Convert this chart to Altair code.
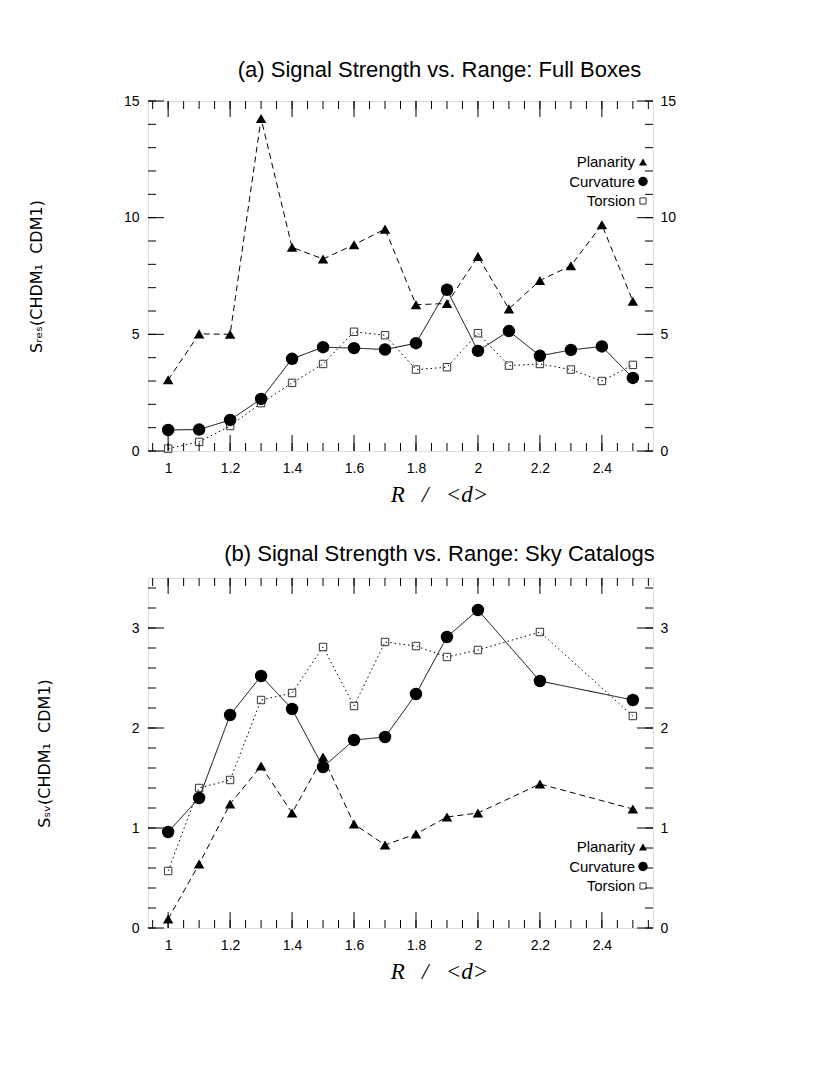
import altair as alt
import pandas as pd

# ---------------- data ----------------
series = ["Planarity", "Curvature", "Torsion"]

x_a = [1.0, 1.1, 1.2, 1.3, 1.4, 1.5, 1.6, 1.7, 1.8, 1.9, 2.0, 2.1, 2.2, 2.3, 2.4, 2.5]
plan_a = [3.05, 5.02, 5.0, 14.25, 8.73, 8.23, 8.84, 9.51, 6.27, 6.32, 8.34, 6.09, 7.31, 7.94, 9.70, 6.42]
curv_a = [0.90, 0.92, 1.33, 2.23, 3.95, 4.45, 4.41, 4.35, 4.62, 6.91, 4.29, 5.14, 4.08, 4.33, 4.48, 3.13]
tors_a = [0.10, 0.39, 1.07, 2.05, 2.92, 3.73, 5.11, 4.96, 3.49, 3.59, 5.05, 3.66, 3.73, 3.49, 3.00, 3.69]

x_b = [1.0, 1.1, 1.2, 1.3, 1.4, 1.5, 1.6, 1.7, 1.8, 1.9, 2.0, 2.2, 2.5]
plan_b = [0.09, 0.64, 1.24, 1.62, 1.15, 1.71, 1.04, 0.83, 0.94, 1.11, 1.15, 1.44, 1.19]
curv_b = [0.96, 1.30, 2.13, 2.52, 2.19, 1.61, 1.88, 1.91, 2.34, 2.91, 3.18, 2.47, 2.28]
tors_b = [0.57, 1.40, 1.48, 2.28, 2.35, 2.81, 2.22, 2.86, 2.82, 2.71, 2.78, 2.96, 2.12]

x_domain = [0.935, 2.565]
x_major = [1.0, 1.2, 1.4, 1.6, 1.8, 2.0, 2.2, 2.4]
x_minor = [0.95, 1.0, 1.05, 1.1, 1.15, 1.2, 1.25, 1.3, 1.35, 1.4, 1.45, 1.5, 1.55,
           1.6, 1.65, 1.7, 1.75, 1.8, 1.85, 1.9, 1.95, 2.0, 2.05, 2.1, 2.15, 2.2,
           2.25, 2.3, 2.35, 2.4, 2.45, 2.5, 2.55]

ya_domain = [0, 15]
ya_major = [0, 5, 10, 15]
ya_minor = [0, 1, 2, 3, 4, 5, 6, 7, 8, 9, 10, 11, 12, 13, 14, 15]

yb_domain = [0, 3.5]
yb_major = [0, 1, 2, 3]
yb_minor = [0, 0.2, 0.4, 0.6, 0.8, 1.0, 1.2, 1.4, 1.6, 1.8, 2.0, 2.2, 2.4, 2.6,
            2.8, 3.0, 3.2, 3.4]

NB = "\u00a0"
titles = ["(a) Signal Strength vs. Range: Full Boxes",
          "(b) Signal Strength vs. Range: Sky Catalogs"]
ytitles = ["S\u1d63\u2091\u209b(CHDM\u2081" + NB * 2 + "CDM1)",
           "S\u209b\u1d65(CHDM\u2081" + NB * 2 + "CDM1)"]
xtitle = "R" + NB * 3 + "/" + NB * 3 + "<d>"

W = 505
H = 350
FONT = "Liberation Sans"
MAJ = 16
MIN = 8
LEG_TEXT_X = 487
LEG_SYM_X = 495
LEG_PITCH = 19.5


def panel(xs, p, c, t, ydom, ymaj, ymin, title, ytitle, leg_top):
    frames = []
    for name, vals in zip(series, [p, c, t]):
        frames.append(pd.DataFrame({"x": xs, "value": vals, "series": name}))
    df = pd.concat(frames, ignore_index=True)

    xs_scale = alt.Scale(domain=x_domain, nice=False, zero=False)
    ys_scale = alt.Scale(domain=ydom, nice=False, zero=False)

    x_axis = alt.Axis(values=x_major, format="~g", ticks=False, domain=False,
                      grid=False, labelFont=FONT, labelFontSize=14,
                      labelColor="black", labelPadding=10, title=xtitle,
                      titleFont="Liberation Serif", titleFontStyle="italic",
                      titleFontWeight="normal", titleFontSize=23,
                      titleColor="black", titlePadding=8, titleX=291)
    y_left = alt.Axis(orient="left", values=ymaj, format="~g", ticks=False,
                      domain=False, grid=False, labelFont=FONT, labelFontSize=14,
                      labelColor="black", labelPadding=9, title=ytitle,
                      titleFont="DejaVu Sans", titleFontWeight="normal",
                      titleFontSize=16, titleColor="black", titlePadding=79)
    y_right = alt.Axis(orient="right", values=ymaj, format="~g", ticks=False,
                       domain=False, grid=False, labelFont=FONT, labelFontSize=14,
                       labelColor="black", labelPadding=7, title=None)

    def X(axis=None):
        return alt.X("x:Q", scale=xs_scale, axis=axis)

    def Y(axis=None):
        return alt.Y("value:Q", scale=ys_scale, axis=axis)

    base = alt.Chart(df)
    dashes = {"Planarity": [6, 4], "Curvature": [1, 0], "Torsion": [1.5, 3]}
    layers = []
    for i, name in enumerate(series):
        ln = base.transform_filter(alt.datum.series == name).mark_line(
            color="black", strokeWidth=1, strokeDash=dashes[name])
        if i == 0:
            ln = ln.encode(x=X(x_axis), y=Y(y_left))
        elif i == 1:
            ln = ln.encode(x=X(), y=Y(y_right))
        else:
            ln = ln.encode(x=X(), y=Y())
        layers.append(ln)

    tri = base.transform_filter(alt.datum.series == "Planarity").mark_point(
        shape="triangle-up", filled=True, color="black", size=110, opacity=1
    ).encode(x=X(), y=Y())
    cir = base.transform_filter(alt.datum.series == "Curvature").mark_point(
        shape="circle", filled=True, color="black", size=155, opacity=1
    ).encode(x=X(), y=Y())
    sq = base.transform_filter(alt.datum.series == "Torsion").mark_point(
        shape="square", filled=False, color="#333333", size=55, strokeWidth=1,
        opacity=1
    ).encode(x=X(), y=Y())
    layers += [sq, tri, cir]

    # legend: label on the left, symbol on the right
    sym_style = {
        "Planarity": dict(shape="triangle-up", filled=True, color="black", size=65),
        "Curvature": dict(shape="circle", filled=True, color="black", size=90),
        "Torsion": dict(shape="square", filled=False, color="#333333", size=38, strokeWidth=1),
    }
    for k, name in enumerate(series):
        ld = pd.DataFrame({"series": [name]})
        yy = leg_top + k * LEG_PITCH
        layers.append(alt.Chart(ld).mark_text(
            align="right", baseline="middle", font=FONT, fontSize=15, color="black"
        ).encode(text="series:N", x=alt.value(LEG_TEXT_X), y=alt.value(yy)))
        layers.append(alt.Chart(ld).mark_point(opacity=1, **sym_style[name]).encode(
            x=alt.value(LEG_SYM_X), y=alt.value(yy)))

    # inward tick marks
    ymaj_df = pd.DataFrame({"value": ymaj})
    ymin_df = pd.DataFrame({"value": ymin})
    xmaj_df = pd.DataFrame({"x": x_major})
    xmin_df = pd.DataFrame({"x": x_minor})
    tk = dict(color="black", strokeWidth=1)
    for d, L in [(ymaj_df, MAJ), (ymin_df, MIN)]:
        layers.append(alt.Chart(d).mark_rule(**tk).encode(
            y=Y(), x=alt.value(0), x2=alt.value(L)))
        layers.append(alt.Chart(d).mark_rule(**tk).encode(
            y=Y(), x=alt.value(W), x2=alt.value(W - L)))
    for d, L in [(xmaj_df, MAJ), (xmin_df, MIN)]:
        layers.append(alt.Chart(d).mark_rule(**tk).encode(
            x=X(), y=alt.value(H), y2=alt.value(H - L)))
        layers.append(alt.Chart(d).mark_rule(**tk).encode(
            x=X(), y=alt.value(0), y2=alt.value(L)))

    return alt.layer(*layers).resolve_axis(x="independent", y="independent").properties(
        width=W, height=H,
        title=alt.Title(title, font=FONT, fontSize=22, fontWeight="normal",
                        color="black", anchor="middle", dx=39, offset=12),
    )


pa = panel(x_a, plan_a, curv_a, tors_a, ya_domain, ya_major, ya_minor,
           titles[0], ytitles[0], 61)
pb = panel(x_b, plan_b, curv_b, tors_b, yb_domain, yb_major, yb_minor,
           titles[1], ytitles[1], 269)

chart = alt.vconcat(pa, pb, spacing=35).properties(
    padding={"left": 19, "top": 50, "right": 5, "bottom": 5}
).configure_view(stroke="black", strokeWidth=1).configure(background="white")

chart.save("out.html", embed_options={"renderer": "svg", "actions": False})
